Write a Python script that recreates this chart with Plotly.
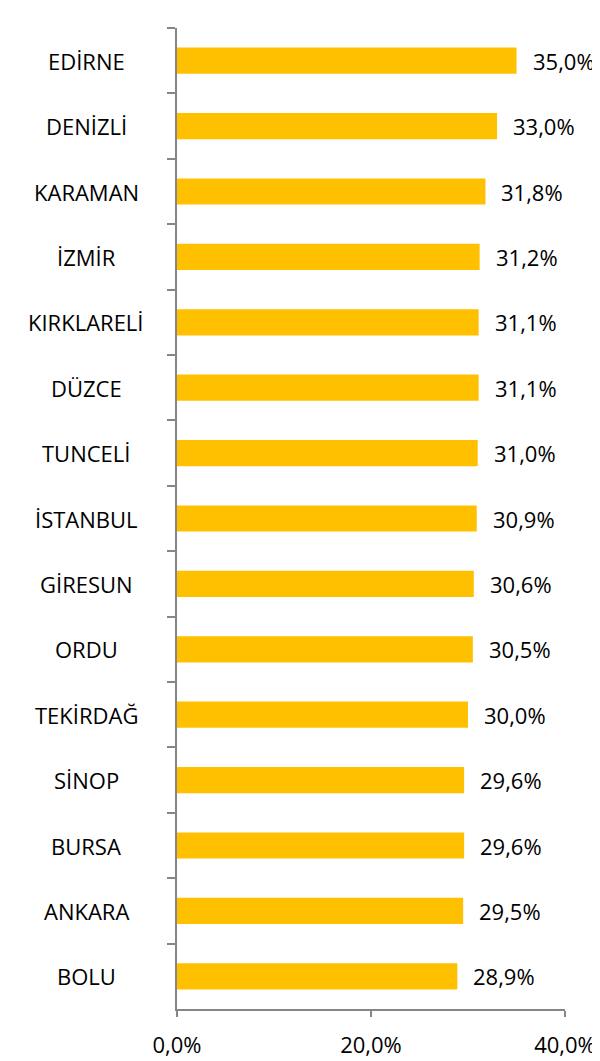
import plotly.graph_objects as go

categories = ["EDİRNE", "DENİZLİ", "KARAMAN", "İZMİR", "KIRKLARELİ", "DÜZCE", "TUNCELİ",
              "İSTANBUL", "GİRESUN", "ORDU", "TEKİRDAĞ", "SİNOP", "BURSA", "ANKARA", "BOLU"]
values = [35.0, 33.0, 31.8, 31.2, 31.1, 31.1, 31.0, 30.9, 30.6, 30.5, 30.0, 29.6, 29.6, 29.5, 28.9]
x_ticks = [0, 20, 40]
x_tick_labels = ["0,0%", "20,0%", "40,0%"]

FONT = "Open Sans, Liberation Sans, sans-serif"
FSIZE = 22
AXIS_COLOR = "#868686"

fig = go.Figure()
fig.add_trace(go.Bar(
    x=values, y=categories, orientation="h",
    marker=dict(color="#FFC000", line=dict(width=0)),
    hoverinfo="skip",
))

annotations = []
for c, v in zip(categories, values):
    annotations.append(dict(
        x=v, y=c, xref="x", yref="y", text=f"{v:.1f}%".replace(".", ","),
        xanchor="left", yanchor="middle", xshift=14, showarrow=False,
        font=dict(family=FONT, size=FSIZE, color="#000000"),
    ))
    annotations.append(dict(
        x=0, y=c, xref="paper", yref="y", text=c,
        xanchor="center", yanchor="middle", xshift=-91, showarrow=False,
        font=dict(family=FONT, size=FSIZE, color="#000000"),
    ))

fig.update_layout(
    width=592, height=1053,
    margin=dict(l=169, r=35, t=20, b=52, autoexpand=False),
    paper_bgcolor="white", plot_bgcolor="white",
    bargap=0.6, showlegend=False,
    annotations=annotations,
    xaxis=dict(
        range=[0, 40], tickvals=x_ticks, ticktext=x_tick_labels,
        showgrid=False, zeroline=False, automargin=False,
        showline=True, linecolor=AXIS_COLOR, linewidth=1.5,
        ticks="outside", ticklen=6, tickcolor=AXIS_COLOR, tickwidth=1.5,
        tickfont=dict(family=FONT, size=FSIZE, color="#000000"),
        ticklabelstandoff=10,
    ),
    yaxis=dict(
        categoryorder="array", categoryarray=categories, autorange="reversed",
        showgrid=False, zeroline=False, showticklabels=False, automargin=False,
        showline=True, linecolor=AXIS_COLOR, linewidth=1.5,
        ticks="outside", tickson="boundaries", ticklen=8,
        tickcolor=AXIS_COLOR, tickwidth=1.5,
    ),
)

fig.write_html("out.html")
